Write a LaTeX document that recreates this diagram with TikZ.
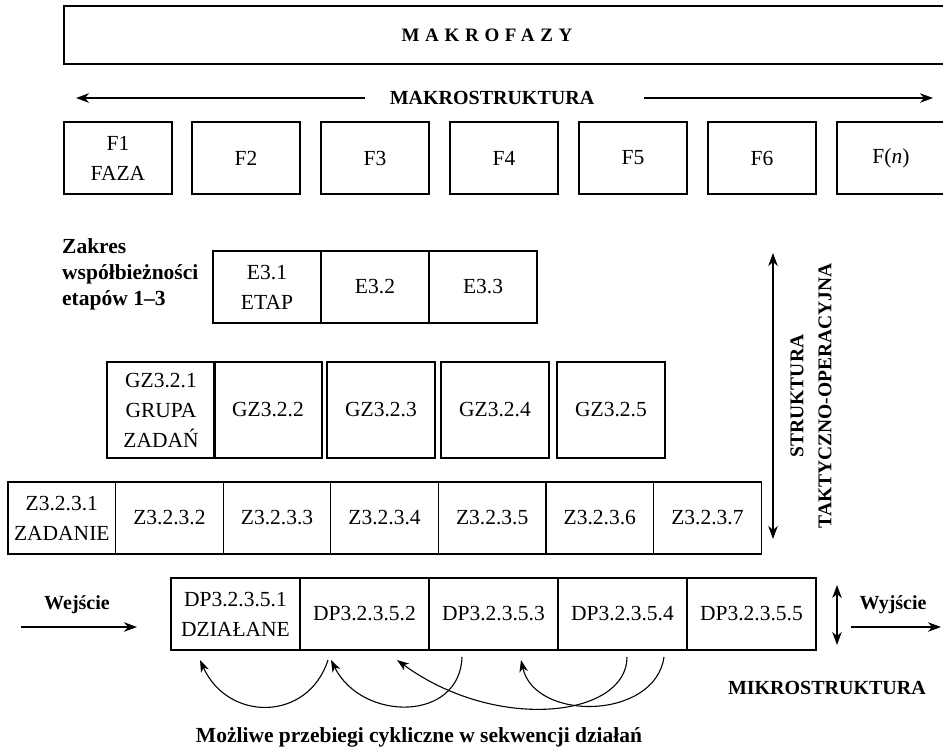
\documentclass[tikz,border=0pt]{standalone}
\usepackage{fontspec}
\setmainfont{Liberation Serif}
\usetikzlibrary{arrows.meta}
\begin{document}
\begin{tikzpicture}[x=1pt,y=-1pt,
  box/.style={draw, line width=1.3pt},
  cell/.style={box, rectangle, align=center, inner sep=1pt,
    font=\fontsize{21.5}{30}\selectfont},
  wcell/.style={cell, minimum width=108pt, minimum height=72pt},
  gcell/.style={cell, minimum width=108pt, minimum height=96pt},
  zcell/.style={cell, minimum width=107.6pt, minimum height=72pt},
  dcell/.style={cell, minimum width=129pt, minimum height=72pt},
  lab/.style={inner sep=0pt, font=\bfseries\fontsize{20}{26}\selectfont},
  arr/.style={line width=1.1pt, -{Stealth[length=13pt,width=9.5pt,inset=4pt]}},
  darr/.style={line width=1.1pt, {Stealth[length=13pt,width=9.5pt,inset=4pt]}-{Stealth[length=13pt,width=9.5pt,inset=4pt]}},
  carr/.style={line width=1.1pt, -{Stealth[length=12pt,width=8.5pt,inset=3.5pt]}},
]
\useasboundingbox (0,0) rectangle (943,750);
\clip (0,0) rectangle (943,750);

% macro-phase banner (runs off the right edge)
\draw[box] (64,6) rectangle (960,64);
\node[inner sep=0pt, font=\bfseries\fontsize{19}{22}\selectfont\addfontfeatures{LetterSpace=30}]
  (makrofazy) at (487,35) {MAKROFAZY};

% macrostructure label with its two arrows
\node[lab] (makro) at (492,98) {MAKROSTRUKTURA};
\coordinate (mLs) at (365,98);
\coordinate (mLe) at (76,98);
\coordinate (mRs) at (644,98);
\coordinate (mRe) at (933,98);
\draw[arr] (mLs) -- (mLe);
\draw[arr] (mRs) -- (mRe);

% phases
\node[wcell] (f1) at (118,158) {F1\\FAZA};
\node[wcell] (f2) at (246,158) {F2};
\node[wcell] (f3) at (375,158) {F3};
\node[wcell] (f4) at (504,158) {F4};
\node[wcell] (f5) at (633,158) {F5};
\node[wcell] (f6) at (762,158) {F6};
\node[wcell] (f7) at (891,158) {F(\textit{n})};

% stages
\node[lab, anchor=west, align=left, font=\bfseries\fontsize{21.5}{26}\selectfont]
  (zakres) at (62,274) {Zakres\\współbieżności\\etapów 1–3};
\node[wcell] (e1) at (267,287) {E3.1\\ETAP};
\node[wcell] (e2) at (375,287) {E3.2};
\node[wcell] (e3) at (483,287) {E3.3};

% task groups
\node[gcell] (g1) at (161,410) {GZ3.2.1\\GRUPA\\ZADAŃ};
\node[gcell] (g2) at (268,410) {GZ3.2.2};
\node[gcell] (g3) at (381,410) {GZ3.2.3};
\node[gcell] (g4) at (495,410) {GZ3.2.4};
\node[gcell] (g5) at (611,410) {GZ3.2.5};

% tasks
\node[zcell] (z1) at (61.8,518) {Z3.2.3.1\\ZADANIE};
\node[zcell] (z2) at (169.4,518) {Z3.2.3.2};
\node[zcell] (z3) at (277,518) {Z3.2.3.3};
\node[zcell] (z4) at (384.6,518) {Z3.2.3.4};
\node[zcell] (z5) at (492.2,518) {Z3.2.3.5};
\node[zcell] (z6) at (599.8,518) {Z3.2.3.6};
\node[zcell] (z7) at (707.4,518) {Z3.2.3.7};

% tactical-operational axis
\coordinate (vt) at (773,253);
\coordinate (vb) at (773,539);
\draw[darr] (vb) -- (vt);
\node[lab, rotate=90, align=center, font=\bfseries\fontsize{19.5}{28}\selectfont]
  (taktyka) at (811,396) {STRUKTURA\\TAKTYCZNO-OPERACYJNA};

% actions
\node[dcell] (d1) at (235.5,614) {DP3.2.3.5.1\\DZIAŁANE};
\node[dcell] (d2) at (364.5,614) {DP3.2.3.5.2};
\node[dcell] (d3) at (493.5,614) {DP3.2.3.5.3};
\node[dcell] (d4) at (622.5,614) {DP3.2.3.5.4};
\node[dcell] (d5) at (751.5,614) {DP3.2.3.5.5};

% input / output
\node[lab] (wej) at (77,605) {Wejście};
\coordinate (wejS) at (21,627);
\coordinate (wejE) at (137,627);
\draw[arr] (wejS) -- (wejE);
\node[lab] (wyj) at (893,605) {Wyjście};
\coordinate (wyjS) at (851,627);
\coordinate (wyjE) at (941,627);
\draw[arr] (wyjS) -- (wyjE);
\coordinate (st) at (837,585);
\coordinate (sb) at (837,645);
\draw[darr] (sb) -- (st);
\node[lab, anchor=east] (mikro) at (926,688) {MIKROSTRUKTURA};

% cyclic runs between actions
\coordinate (a1s) at (328,660);
\coordinate (a1e) at (200,660);
\coordinate (a2s) at (462,657);
\coordinate (a2e) at (331,660);
\coordinate (a3s) at (627,657);
\coordinate (a3e) at (397,660);
\coordinate (a4s) at (664,657);
\coordinate (a4e) at (521,660);
\draw[carr] (a1s) .. controls (308,722) and (228,722) .. (a1e);
\draw[carr] (a2s) .. controls (460,722) and (362,722) .. (a2e);
\draw[carr] (a3s) .. controls (627,717) and (497,733) .. (a3e);
\draw[carr] (a4s) .. controls (655,720) and (535,722) .. (a4e);

\node[lab, font=\bfseries\fontsize{21.5}{26}\selectfont] (cykle) at (419,737)
  {Możliwe przebiegi cykliczne w sekwencji działań};
\end{tikzpicture}
\end{document}
